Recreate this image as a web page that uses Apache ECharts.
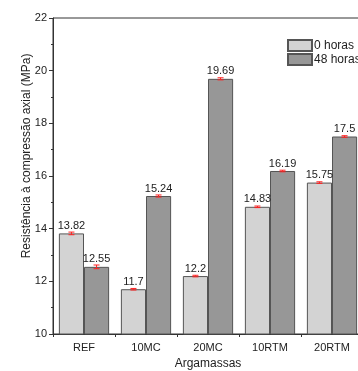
<!DOCTYPE html>
<html>
<head>
<meta charset="utf-8">
<script src="https://cdn.jsdelivr.net/npm/echarts@6/dist/echarts.min.js"></script>
<style>
  html, body { margin: 0; padding: 0; background: #fff; }
  #chart { width: 358px; height: 371px; }
</style>
</head>
<body>
<div id="chart"></div>
<script>
var categories = ['REF', '10MC', '20MC', '10RTM', '20RTM'];
var horas0 = [13.82, 11.7, 12.2, 14.83, 15.75];
var horas48 = [12.55, 15.24, 19.69, 16.19, 17.5];
// desvios (estimados do gráfico)
var erro0 = [0.05, 0.03, 0.03, 0.03, 0.03];
var erro48 = [0.07, 0.04, 0.04, 0.03, 0.03];

var catGap = 0.19;

function errorSeries(values, errs, side) {
  var data = values.map(function (v, i) { return [i, v - errs[i], v + errs[i]]; });
  return {
    type: 'custom',
    silent: true,
    z: 10,
    data: data,
    renderItem: function (params, api) {
      var i = api.value(0);
      var lo = api.coord([i, api.value(1)]);
      var hi = api.coord([i, api.value(2)]);
      var band = api.size([1, 0])[0];
      var bw = band * (1 - catGap) / 2;
      var x = lo[0] + side * bw / 2;
      var cap = 3;
      var st = { stroke: '#ff2020', lineWidth: 1 };
      return {
        type: 'group',
        children: [
          { type: 'line', shape: { x1: x, y1: lo[1], x2: x, y2: hi[1] }, style: st },
          { type: 'line', shape: { x1: x - cap, y1: lo[1], x2: x + cap, y2: lo[1] }, style: st },
          { type: 'line', shape: { x1: x - cap, y1: hi[1], x2: x + cap, y2: hi[1] }, style: st }
        ]
      };
    }
  };
}

var myChart = echarts.init(document.getElementById('chart'));
myChart.setOption({
  animation: false,
  textStyle: { fontFamily: 'Liberation Sans, Arial, sans-serif' },
  grid: {
    left: 53, top: 18, bottom: 37, width: 310,
    outerBoundsMode: 'none',
    show: true, borderColor: '#333', borderWidth: 1, backgroundColor: 'transparent'
  },
  legend: {
    left: 287, top: 39, orient: 'vertical', itemWidth: 24, itemHeight: 11, itemGap: 1,
    padding: 0,
    icon: 'rect',
    textStyle: { fontSize: 12, color: '#222', padding: [0, 0, 0, -3] },
    data: ['0 horas', '48 horas']
  },
  xAxis: {
    type: 'category',
    data: categories,
    name: 'Argamassas',
    nameLocation: 'middle',
    nameGap: 24,
    nameMoveOverlap: false,
    nameTextStyle: { fontSize: 12, color: '#222' },
    axisLine: { lineStyle: { color: '#333' } },
    axisTick: { show: true, length: 3, lineStyle: { color: '#333' } },
    axisLabel: { fontSize: 11, color: '#222', margin: 8 }
  },
  yAxis: {
    type: 'value',
    min: 10, max: 22, interval: 2,
    name: 'Resistência à compressão axial (MPa)',
    nameLocation: 'middle',
    nameGap: 20,
    nameMoveOverlap: false,
    nameTextStyle: { fontSize: 12, color: '#222', padding: [0, 0, 0, 40] },
    axisLine: { show: true, lineStyle: { color: '#333' } },
    axisTick: { show: true, length: 4, lineStyle: { color: '#333' } },
    minorTick: { show: true, splitNumber: 2, length: 2, lineStyle: { color: '#333' } },
    splitLine: { show: false },
    axisLabel: { fontSize: 11, color: '#222', margin: 6 }
  },
  series: [
    {
      name: '0 horas',
      type: 'bar',
      data: horas0,
      barGap: 0,
      barCategoryGap: (catGap * 100) + '%',
      itemStyle: { color: '#d3d3d3', borderColor: '#555', borderWidth: 1 },
      label: { show: true, position: 'top', distance: 2, fontSize: 11, color: '#222' }
    },
    {
      name: '48 horas',
      type: 'bar',
      data: horas48,
      barGap: 0,
      barCategoryGap: (catGap * 100) + '%',
      itemStyle: { color: '#979797', borderColor: '#555', borderWidth: 1 },
      label: { show: true, position: 'top', distance: 2, fontSize: 11, color: '#222' }
    },
    errorSeries(horas0, erro0, -1),
    errorSeries(horas48, erro48, 1)
  ]
});
</script>
</body>
</html>
